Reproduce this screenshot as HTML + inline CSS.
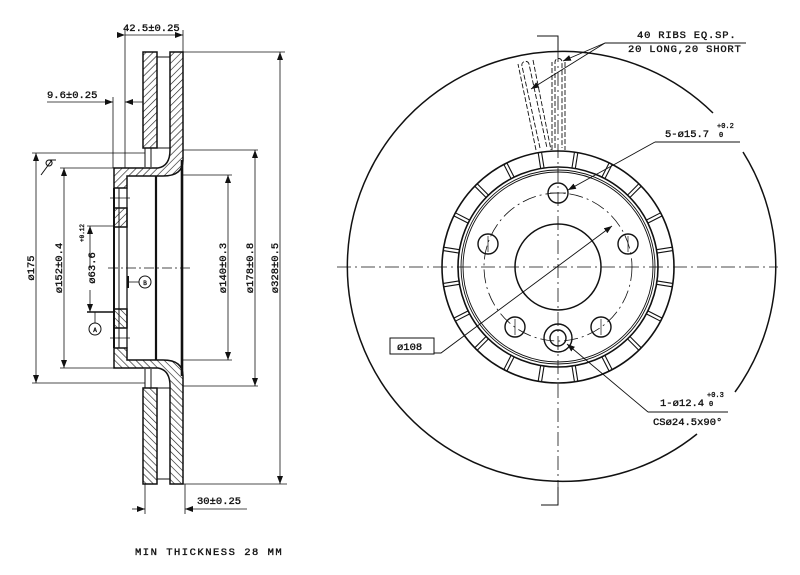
<!DOCTYPE html>
<html><head><meta charset="utf-8"><style>
html,body{margin:0;padding:0;background:#fff}
svg{display:block}
text{font-family:"Liberation Mono",monospace;fill:#111;stroke:#111;stroke-width:0.35}
</style></head><body>
<svg width="800" height="575" viewBox="0 0 800 575" xmlns="http://www.w3.org/2000/svg">
<defs>
<pattern id="h" patternUnits="userSpaceOnUse" width="5" height="5" patternTransform="rotate(45)">
<rect width="5" height="5" fill="#fff"/><line x1="0" y1="0" x2="0" y2="5" stroke="#111" stroke-width="1.2"/>
</pattern>
<marker id="a" markerWidth="8" markerHeight="6" refX="8" refY="3" orient="auto" markerUnits="userSpaceOnUse"><path d="M0,0 L8,3 L0,6z" fill="#111"/></marker>
<g id="half" stroke="#111" fill="url(#h)" stroke-width="1.5">
<rect x="143" y="52" width="14" height="96"/>
<path d="M170,52 L183,52 L183,160 Q183,176 163,176 L127,176 L127,188 L114,188 L114,168 L158,168 Q170,166 170,150 Z"/>
<rect x="114" y="208" width="13" height="19"/>
<line x1="157" y1="57" x2="170" y2="57" stroke-width="1"/>
<line x1="157" y1="148" x2="170" y2="148" stroke-width="1"/>
<line x1="145" y1="148" x2="145" y2="167" stroke-width="1" fill="none"/>
<line x1="151" y1="148" x2="151" y2="167" stroke-width="1" fill="none"/>
</g>
<g id="rib" stroke="#111" stroke-width="1.1"><line x1="556.3" y1="151" x2="556.3" y2="167"/><line x1="559.7" y1="151" x2="559.7" y2="167"/></g>
</defs>

<use href="#half"/>
<use href="#half" transform="matrix(1,0,0,-1,0,536)"/>
<g stroke="#111" fill="none">
<line x1="114" y1="188" x2="114" y2="348" stroke-width="2"/>
<line x1="119" y1="188" x2="119" y2="348" stroke-width="1"/>
<line x1="127" y1="188" x2="127" y2="348" stroke-width="1.3"/>
<line x1="156" y1="176" x2="156" y2="360" stroke-width="2.2"/>
<line x1="182" y1="160" x2="182" y2="376" stroke-width="2.6"/>
<line x1="108" y1="268" x2="192" y2="268" stroke-width="0.8" stroke-dasharray="10,3,2,3"/>
<line x1="110" y1="198" x2="130" y2="198" stroke-width="0.8"/>
<line x1="110" y1="338" x2="130" y2="338" stroke-width="0.8"/>
<line x1="125" y1="30" x2="125" y2="168" stroke-width="0.8"/>
<line x1="183" y1="30" x2="183" y2="52" stroke-width="0.8"/>
<line x1="125" y1="35" x2="183" y2="35" stroke-width="0.8" marker-start="url(#a)" marker-end="url(#a)"/>
<line x1="113" y1="97" x2="113" y2="168" stroke-width="0.8"/>
<line x1="47" y1="102" x2="113" y2="102" stroke-width="0.8" marker-end="url(#a)"/>
<line x1="143" y1="102" x2="125" y2="102" stroke-width="0.8" marker-end="url(#a)"/>
<line x1="32" y1="153" x2="145" y2="153" stroke-width="0.8"/>
<line x1="32" y1="383" x2="145" y2="383" stroke-width="0.8"/>
<line x1="36" y1="268" x2="36" y2="153" stroke-width="0.8" marker-end="url(#a)"/>
<line x1="36" y1="268" x2="36" y2="383" stroke-width="0.8" marker-end="url(#a)"/>
<line x1="60" y1="168" x2="114" y2="168" stroke-width="0.8"/>
<line x1="60" y1="368" x2="114" y2="368" stroke-width="0.8"/>
<line x1="64" y1="268" x2="64" y2="168" stroke-width="0.8" marker-end="url(#a)"/>
<line x1="64" y1="268" x2="64" y2="368" stroke-width="0.8" marker-end="url(#a)"/>
<line x1="87" y1="226" x2="115" y2="226" stroke-width="0.8"/>
<line x1="90" y1="268" x2="90" y2="226" stroke-width="0.8" marker-end="url(#a)"/>
<line x1="90" y1="290" x2="90" y2="312" stroke-width="0.8" marker-end="url(#a)"/>
<line x1="87" y1="312" x2="115" y2="312" stroke-width="1.6"/>
<line x1="183" y1="175" x2="232" y2="175" stroke-width="0.8"/>
<line x1="183" y1="360" x2="232" y2="360" stroke-width="0.8"/>
<line x1="228" y1="268" x2="228" y2="175" stroke-width="0.8" marker-end="url(#a)"/>
<line x1="228" y1="268" x2="228" y2="360" stroke-width="0.8" marker-end="url(#a)"/>
<line x1="183" y1="150" x2="258" y2="150" stroke-width="0.8"/>
<line x1="183" y1="386" x2="258" y2="386" stroke-width="0.8"/>
<line x1="255" y1="268" x2="255" y2="150" stroke-width="0.8" marker-end="url(#a)"/>
<line x1="255" y1="268" x2="255" y2="386" stroke-width="0.8" marker-end="url(#a)"/>
<line x1="183" y1="52" x2="285" y2="52" stroke-width="0.8"/>
<line x1="183" y1="484" x2="287" y2="484" stroke-width="0.8"/>
<line x1="280" y1="268" x2="280" y2="52" stroke-width="0.8" marker-end="url(#a)"/>
<line x1="280" y1="268" x2="280" y2="484" stroke-width="0.8" marker-end="url(#a)"/>
<line x1="145" y1="484" x2="145" y2="514" stroke-width="0.8"/>
<line x1="185" y1="484" x2="185" y2="514" stroke-width="0.8"/>
<line x1="132" y1="509" x2="145" y2="509" stroke-width="0.8" marker-end="url(#a)"/>
<line x1="247" y1="509" x2="185" y2="509" stroke-width="0.8" marker-end="url(#a)"/>
<circle cx="95" cy="329" r="6" stroke-width="1"/>
<line x1="95" y1="323" x2="95" y2="312" stroke-width="0.8"/>
<circle cx="145" cy="282" r="6" stroke-width="1"/>
<line x1="128" y1="282" x2="139" y2="282" stroke-width="0.8"/>
<line x1="128" y1="276" x2="128" y2="288" stroke-width="2"/>
<path d="M41,175 L52,160 M49,160 a3,3 0 1,0 0.1,0 M49,160 L56,160" stroke-width="1"/>
</g>
<g font-size="10.5">
<text x="123" y="31">42.5±0.25</text>
<text x="47" y="98">9.6±0.25</text>
<text x="197" y="504">30±0.25</text>
<text x="135" y="555" letter-spacing="1.5">MIN THICKNESS 28 MM</text>
<text transform="translate(34,268) rotate(-90)" text-anchor="middle">ø175</text>
<text transform="translate(62,268) rotate(-90)" text-anchor="middle">ø152±0.4</text>
<text transform="translate(95,268) rotate(-90)" text-anchor="middle">ø63.6</text>
<text transform="translate(84,242) rotate(-90)" font-size="6" stroke-width="0">+0.12</text>
<text transform="translate(226,268) rotate(-90)" text-anchor="middle">ø140±0.3</text>
<text transform="translate(253,268) rotate(-90)" text-anchor="middle">ø178±0.8</text>
<text transform="translate(278,268) rotate(-90)" text-anchor="middle">ø328±0.5</text>
<text x="95" y="332" font-size="6" text-anchor="middle" stroke-width="0">A</text>
<text x="145" y="285" font-size="6" text-anchor="middle" stroke-width="0">B</text>
</g>

<g stroke="#111" fill="none">
<path d="M713,113 A215,215 0 1,0 697,434" stroke-width="1.5"/>
<path d="M743,152 A215,215 0 0,1 735,392" stroke-width="1.5"/>
<circle cx="558" cy="267" r="116" stroke-width="1.6"/>
<circle cx="558" cy="267" r="100" stroke-width="1.6"/>
<circle cx="558" cy="267" r="97" stroke-width="0.9"/>
<circle cx="558" cy="267" r="95" stroke-width="0.9"/>
<circle cx="558" cy="267" r="43" stroke-width="1.5"/>
<circle cx="558" cy="267" r="74" stroke-width="0.8" stroke-dasharray="14,4,2,4"/>
<line x1="337" y1="267" x2="778" y2="267" stroke-width="0.8" stroke-dasharray="14,4,2,4"/>
<line x1="558" y1="48" x2="558" y2="505" stroke-width="0.8" stroke-dasharray="14,4,2,4"/>
<path d="M558,50 L558,36 L537,36" stroke-width="1"/>
<path d="M558,487 L558,505 L541,505" stroke-width="1"/>
<g stroke-width="1.4">
<circle cx="558" cy="193" r="10"/>
<circle cx="628" cy="244" r="10"/>
<circle cx="601" cy="327" r="10"/>
<circle cx="515" cy="327" r="10"/>
<circle cx="488" cy="244" r="10"/>
<circle cx="558" cy="338" r="14"/>
<circle cx="558" cy="338" r="8"/>
</g>
<g stroke-width="0.7">
<path d="M550,193 H566 M628,236 V252 M601,319 V335 M515,319 V335 M488,236 V252"/>
</g>
<g stroke-width="0.9" stroke-dasharray="5,2">
<path d="M555,148 L555,62 A3.5,3.5 0 0,1 562,62 L562,148"/>
<path d="M552,150 L552,62 M565,62 L565,150"/>
<path d="M540,148 L522,66 A3.5,3.5 0 0,1 529,64 L547,148"/>
<path d="M536,150 L518,64 M533,60 L551,150"/>
</g>
<g stroke-width="0.9">
<line x1="605" y1="43" x2="746" y2="43"/>
<line x1="605" y1="43" x2="563" y2="61" marker-end="url(#a)"/>
<line x1="605" y1="43" x2="531" y2="89" marker-end="url(#a)"/>
<line x1="655" y1="142" x2="740" y2="142"/>
<line x1="655" y1="142" x2="568" y2="190" marker-end="url(#a)"/>
<path d="M434,353 L441,353 L612,226" marker-end="url(#a)"/>
<line x1="648" y1="412" x2="728" y2="412"/>
<line x1="648" y1="412" x2="567" y2="344" marker-end="url(#a)"/>
</g>
<rect x="390" y="338" width="44" height="16" stroke-width="1"/>
</g>
<g>
<use href="#rib" transform="rotate(9 558 267)"/><use href="#rib" transform="rotate(27 558 267)"/>
<use href="#rib" transform="rotate(45 558 267)"/><use href="#rib" transform="rotate(63 558 267)"/>
<use href="#rib" transform="rotate(81 558 267)"/><use href="#rib" transform="rotate(99 558 267)"/>
<use href="#rib" transform="rotate(117 558 267)"/><use href="#rib" transform="rotate(135 558 267)"/>
<use href="#rib" transform="rotate(153 558 267)"/><use href="#rib" transform="rotate(171 558 267)"/>
<use href="#rib" transform="rotate(189 558 267)"/><use href="#rib" transform="rotate(207 558 267)"/>
<use href="#rib" transform="rotate(225 558 267)"/><use href="#rib" transform="rotate(243 558 267)"/>
<use href="#rib" transform="rotate(261 558 267)"/><use href="#rib" transform="rotate(279 558 267)"/>
<use href="#rib" transform="rotate(297 558 267)"/><use href="#rib" transform="rotate(315 558 267)"/>
<use href="#rib" transform="rotate(333 558 267)"/><use href="#rib" transform="rotate(351 558 267)"/>
</g>
<g font-size="10.5">
<text x="637" y="38" letter-spacing="0.8">40 RIBS EQ.SP.</text>
<text x="628" y="52" letter-spacing="0.8">20 LONG,20 SHORT</text>
<text x="665" y="137">5-ø15.7</text>
<text x="717" y="128" font-size="7" stroke-width="0">+0.2</text>
<text x="719" y="137" font-size="7" stroke-width="0">0</text>
<text x="397" y="350">ø108</text>
<text x="660" y="406">1-ø12.4</text>
<text x="707" y="397" font-size="7" stroke-width="0">+0.3</text>
<text x="709" y="406" font-size="7" stroke-width="0">0</text>
<text x="653" y="425">CSø24.5x90°</text>
</g>
</svg>
</body></html>
